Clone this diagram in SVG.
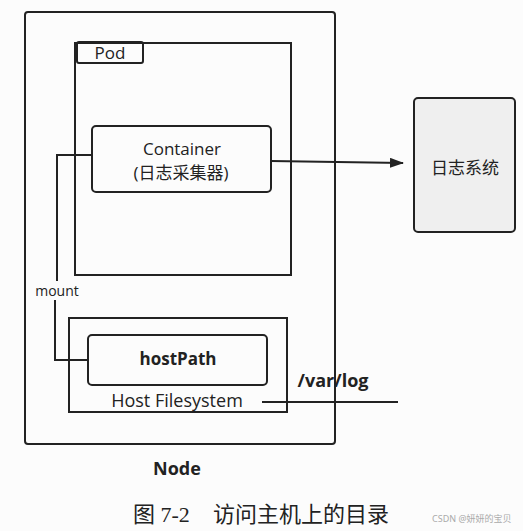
<svg xmlns="http://www.w3.org/2000/svg" width="523" height="531" viewBox="0 0 523 531">
<defs>
<style>
.box{fill:none;stroke:#222;stroke-width:2}
.ln{fill:none;stroke:#222;stroke-width:2}
.t{font-family:"Open Sans","Noto Sans","Noto Sans CJK SC",sans-serif;fill:#222;text-anchor:middle}
.b{font-weight:bold}
.cap{font-family:"Liberation Serif","Noto Sans CJK SC",serif;font-size:22px;fill:#222}
</style>
<marker id="arr" markerWidth="14" markerHeight="10" refX="13" refY="5" orient="auto" markerUnits="userSpaceOnUse">
<path d="M0,0 L14,5 L0,10 Z" fill="#222"/>
</marker>
</defs>
<rect width="523" height="531" fill="#fcfcfc"/>
<g id="node">
<rect class="box" x="25" y="12" width="310" height="432" rx="3"/>
<text class="t b" x="177" y="475" font-size="18">Node</text>
</g>
<g id="pod">
<rect class="box" x="75" y="43" width="216" height="232"/>
<rect class="box" x="77" y="42" width="66" height="21" rx="2" fill="#fcfcfc"/>
<text class="t" x="110" y="59" font-size="17">Pod</text>
</g>
<g id="container">
<rect class="box" x="92" y="126" width="179" height="66" rx="4" fill="#fcfcfc"/>
<text class="t" x="182" y="155" font-size="17">Container</text>
<text class="t" x="181" y="179" font-size="17">(日志采集器)</text>
</g>
<g id="logsys">
<rect x="414" y="98" width="101" height="134" rx="4" fill="#efefef" stroke="#222" stroke-width="2"/>
<text class="t" x="465" y="174" font-size="17">日志系统</text>
</g>
<g id="hostfs">
<rect class="box" x="69" y="318" width="218" height="94"/>
<text class="t" x="177" y="407" font-size="18">Host Filesystem</text>
</g>
<g id="hostpath">
<rect class="box" x="88" y="335" width="179" height="50" rx="4" fill="#fcfcfc"/>
<text class="t b" x="178" y="365" font-size="17">hostPath</text>
</g>
<g id="connectors">
<path class="ln" d="M92,155 L57,155 L57,281"/>
<path class="ln" d="M55,300 L55,360 L88,360"/>
<text class="t" x="57" y="296" font-size="14">mount</text>
<path class="ln" d="M271,161 L403,163" marker-end="url(#arr)"/>
<path class="ln" d="M262,402 L398,402"/>
<text class="t b" x="333" y="387" font-size="18">/var/log</text>
</g>
<text class="cap" x="133" y="522">图 7-2</text>
<text class="cap" x="213" y="522">访问主机上的目录</text>
<text x="432" y="522" font-family="'Noto Sans','Noto Sans CJK SC',sans-serif" font-size="9" fill="#aaa">CSDN @妍妍的宝贝</text>
</svg>
